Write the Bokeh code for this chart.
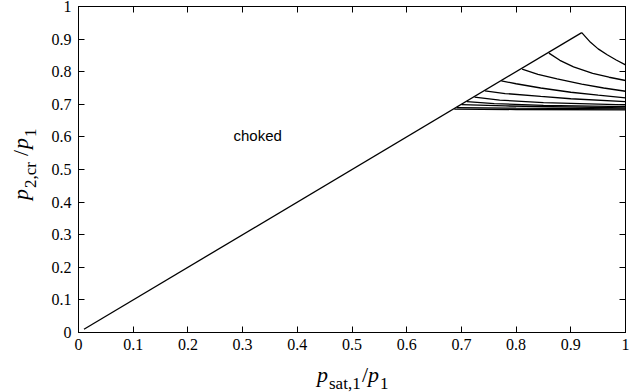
import math
from bokeh.plotting import figure
from bokeh.models import Label, LinearAxis, Range1d, FixedTicker, Div
from bokeh.layouts import row, column
from bokeh.embed import file_html
from bokeh.resources import INLINE

# ---- data ----
diag_x = [0.01, 0.92]
diag_y = [0.01, 0.92]

c1_x = [0.92, 0.936, 0.95, 0.9665, 0.983, 1.0]
c1_y = [0.92, 0.89, 0.87, 0.852, 0.836, 0.821]
c2_x = [0.86, 0.88, 0.905, 0.94, 0.97, 1.0]
c2_y = [0.857, 0.835, 0.815, 0.795, 0.783, 0.773]
c3_x = [0.811, 0.84, 0.875, 0.92, 0.96, 1.0]
c3_y = [0.808, 0.792, 0.778, 0.762, 0.75, 0.74]
c4_x = [0.773, 0.8, 0.845, 0.9, 0.95, 1.0]
c4_y = [0.772, 0.763, 0.75, 0.737, 0.728, 0.72]
c5_x = [0.743, 0.78, 0.845, 0.9, 1.0]
c5_y = [0.741, 0.733, 0.724, 0.717, 0.708]
c6_x = [0.724, 0.77, 0.85, 1.0]
c6_y = [0.722, 0.713, 0.705, 0.698]
c7_x = [0.71, 0.76, 0.85, 1.0]
c7_y = [0.708, 0.702, 0.697, 0.693]
c8_x = [0.70, 0.78, 1.0]
c8_y = [0.699, 0.695, 0.689]
c9_x = [0.692, 0.8, 1.0]
c9_y = [0.69, 0.688, 0.686]
c10_x = [0.687, 0.8, 1.0]
c10_y = [0.685, 0.684, 0.683]

curves = [(c1_x, c1_y), (c2_x, c2_y), (c3_x, c3_y), (c4_x, c4_y), (c5_x, c5_y),
          (c6_x, c6_y), (c7_x, c7_y), (c8_x, c8_y), (c9_x, c9_y), (c10_x, c10_y)]

ticks = [0, 0.1, 0.2, 0.3, 0.4, 0.5, 0.6, 0.7, 0.8, 0.9, 1]
tick_labels = {0: "0", 0.1: "0.1", 0.2: "0.2", 0.3: "0.3", 0.4: "0.4", 0.5: "0.5",
               0.6: "0.6", 0.7: "0.7", 0.8: "0.8", 0.9: "0.9", 1: "1"}

annotation_text = "choked"
# axis label pieces: (text, is_subscript)
xlabel_parts = [("p", False), ("sat,1", True), ("/", False), ("p", False), ("1", True)]
ylabel_parts = [("p", False), ("2,cr", True), ("/", False), ("p", False), ("1", True)]

# ---- layout ----
W, H = 644, 392
YLAB_W, XLAB_H = 40, 40
PW, PH = W - YLAB_W, H - XLAB_H
L, R, T, B = 38, 19, 6, 20
FW, FH = PW - L - R, PH - T - B

SERIF = "'Liberation Serif', serif"

p = figure(width=PW, height=PH, output_backend="svg", toolbar_location=None,
           x_range=Range1d(0, 1), y_range=Range1d(0, 1),
           min_border_left=L, min_border_right=R, min_border_top=T, min_border_bottom=B)
p.grid.visible = False
p.background_fill_color = "white"
p.border_fill_color = "white"
p.outline_line_color = "black"
p.outline_line_width = 1

for ax in (p.xaxis[0], p.yaxis[0]):
    ax.ticker = FixedTicker(ticks=ticks)
    ax.major_label_overrides = tick_labels
    ax.major_tick_in = 6
    ax.major_tick_out = 0
    ax.minor_tick_line_color = None
    ax.major_label_text_font = SERIF
    ax.major_label_text_font_size = "16px"
    ax.major_label_text_color = "black"
    ax.axis_line_color = "black"
    ax.major_tick_line_color = "black"
p.xaxis[0].major_label_standoff = 6
p.yaxis[0].major_label_standoff = 7

for loc in ("right", "above"):
    ax = LinearAxis(ticker=FixedTicker(ticks=ticks), major_tick_in=6, major_tick_out=0,
                    minor_tick_line_color=None, major_label_text_font_size="0px",
                    major_label_text_color=None, major_label_standoff=0,
                    axis_line_color="black", major_tick_line_color="black")
    p.add_layout(ax, loc)

p.line(diag_x, diag_y, line_color="black", line_width=1.3)
for cx, cy in curves:
    p.line(cx, cy, line_color="black", line_width=1.3)

p.add_layout(Label(x=(233 - YLAB_W - L) / FW, y=(T + FH - 143.5) / FH, text=annotation_text,
                   text_font="Liberation Sans", text_font_size="15px", text_color="black"))

MAIN_FS, SUB_FS = 22, 17
ASC = 0.8375  # baseline offset (fraction of font size) with line-height = font size


def piece_style(fs, italic):
    return (f"position:absolute;white-space:nowrap;font-family:'Liberation Serif',serif;"
            f"font-size:{fs}px;line-height:{fs}px;color:black;"
            f"font-style:{'italic' if italic else 'normal'};")


# x label (horizontal), positions in page pixels
x_starts = [317, 329, 362, 368, 380]
MAIN_BASE_X, SUB_BASE_X = 382, 389
xhtml = f'<div style="position:relative;width:{PW}px;height:{XLAB_H}px;">'
for (t, sub), sx in zip(xlabel_parts, x_starts):
    fs = SUB_FS if sub else MAIN_FS
    base = SUB_BASE_X if sub else MAIN_BASE_X
    top = base - ASC * fs - PH
    left = sx - YLAB_W
    xhtml += f'<span style="{piece_style(fs, t == "p")}left:{left}px;top:{top:.1f}px;">{t}</span>'
xhtml += "</div>"

# y label (rotated, reading upward), positions in page pixels
y_starts = [200, 188, 156, 149, 137]
MAIN_BASE_Y, SUB_BASE_Y = 28, 36
yhtml = f'<div style="position:relative;width:{YLAB_W}px;height:{H}px;">'
for (t, sub), sy in zip(ylabel_parts, y_starts):
    fs = SUB_FS if sub else MAIN_FS
    base = SUB_BASE_Y if sub else MAIN_BASE_Y
    left = base - ASC * fs
    yhtml += (f'<span style="{piece_style(fs, t == "p")}left:{left:.1f}px;top:{sy}px;'
              f'transform-origin:0 0;transform:rotate(-90deg);">{t}</span>')
yhtml += "</div>"

ydiv = Div(text=yhtml, width=YLAB_W, height=H, margin=0)
xdiv = Div(text=xhtml, width=PW, height=XLAB_H, margin=0)

layout = row(ydiv, column(p, xdiv, spacing=0), spacing=0)

open("out.html", "w").write(file_html(layout, INLINE))
